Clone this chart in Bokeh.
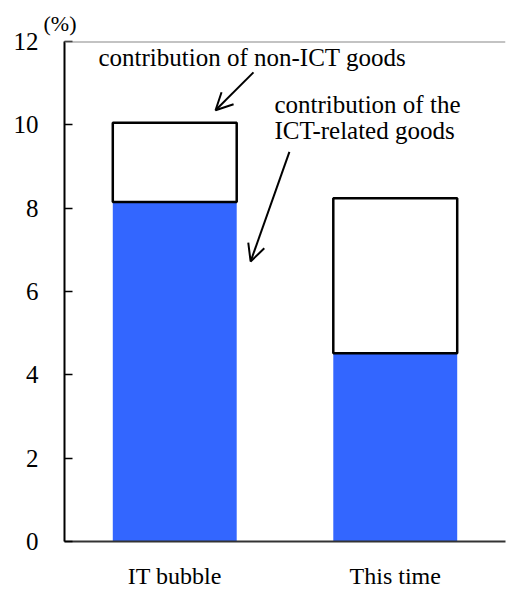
from bokeh.plotting import figure
from bokeh.models import FactorRange, Range1d, FixedTicker, Span, Arrow, OpenHead, Title, ColumnDataSource, LabelSet
from bokeh.embed import file_html
from bokeh.resources import INLINE

# data
periods = ["IT bubble", "This time"]
ict_goods = [8.15, 4.52]
non_ict_goods = [1.90, 3.72]
y_ticks = [0, 2, 4, 6, 8, 10, 12]
notes = ["contribution of non-ICT goods", "contribution of the", "ICT-related goods"]

SERIF = "Liberation Serif"

p = figure(x_range=FactorRange(*periods), y_range=Range1d(0, 12),
           width=506, height=591, output_backend="svg", toolbar_location=None,
           min_border_left=64, min_border_right=1, min_border_top=41, min_border_bottom=48)
p.outline_line_color = None
p.grid.grid_line_color = None
p.background_fill_color = "white"

p.add_layout(Title(text="(%)", text_font=SERIF, text_font_size="22px", text_font_style="normal",
                   align="left", offset=-21, standoff=12, text_color="black"), "above")

src = ColumnDataSource(dict(period=periods, ict=ict_goods, non_ict=non_ict_goods))
p.vbar_stack(["ict", "non_ict"], x="period", width=0.562, source=src,
             fill_color=["#3366FF", "white"],
             line_color=["#3366FF", "black"], line_width=[0, 2.5])

# y axis
ya = p.yaxis[0]
ya.ticker = FixedTicker(ticks=y_ticks)
ya.major_tick_in = 8
ya.major_tick_out = 0
ya.minor_tick_line_color = None
ya.axis_line_width = 2
ya.axis_line_color = "black"
ya.major_tick_line_width = 1.5
ya.major_label_text_font = SERIF
ya.major_label_text_font_size = "25px"
ya.major_label_text_color = "black"
ya.major_label_standoff = 26

# x axis
xa = p.xaxis[0]
xa.major_tick_line_color = None
xa.major_tick_out = 0
xa.minor_tick_line_color = None
xa.axis_line_width = 2
xa.axis_line_color = "#333333"
xa.major_label_text_font = SERIF
xa.major_label_text_font_size = "24px"
xa.major_label_text_color = "black"
xa.major_label_standoff = 21

# top border line
p.add_layout(Span(location=12, dimension="width", line_color="#888888", line_width=2))

# annotations
ann = ColumnDataSource(dict(x=[0.154, 0.952, 0.952], y=[11.62, 10.49, 9.87], t=notes))
p.add_layout(LabelSet(x="x", y="y", text="t", source=ann, text_font=SERIF,
                      text_font_size="25px", text_font_style="normal",
                      text_baseline="middle", text_align="left", text_color="black"))

p.add_layout(Arrow(x_start=0.857, y_start=11.26, x_end=0.685, y_end=10.35,
                   line_width=2, line_color="black",
                   end=OpenHead(size=17, line_width=2, line_color="black")))
p.add_layout(Arrow(x_start=1.020, y_start=9.35, x_end=0.844, y_end=6.72,
                   line_width=2, line_color="black",
                   end=OpenHead(size=17, line_width=2, line_color="black")))

open("out.html", "w").write(file_html(p, INLINE))
